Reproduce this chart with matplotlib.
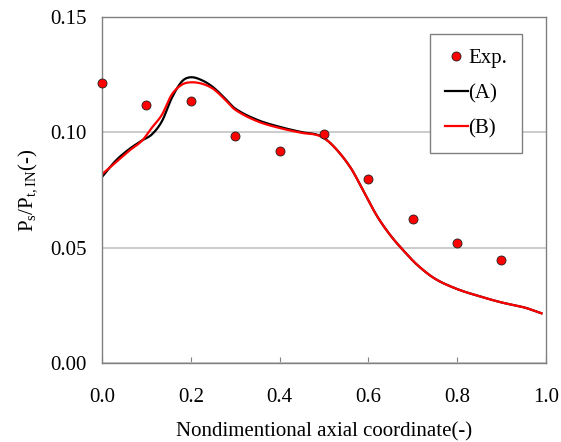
import numpy as np
import matplotlib
matplotlib.use("Agg")
import matplotlib.pyplot as plt

plt.rcParams['font.family'] = ['Liberation Serif', 'DejaVu Serif']
plt.rcParams['mathtext.fontset'] = 'custom'
plt.rcParams['mathtext.rm'] = 'Liberation Serif'
plt.rcParams['mathtext.it'] = 'Liberation Serif'
plt.rcParams['mathtext.default'] = 'regular'

# experimental points
exp_x = [0.0, 0.1, 0.2, 0.3, 0.4, 0.5, 0.6, 0.7, 0.8, 0.9]
exp_y = [0.1214, 0.1116, 0.1134, 0.0985, 0.0920, 0.0994, 0.0798, 0.0625, 0.0518, 0.0444]

# computed curves
calc_x = [0.0, 0.03, 0.06, 0.09, 0.112, 0.135, 0.157, 0.18, 0.2, 0.225, 0.25, 0.275,
          0.3, 0.35, 0.4, 0.45, 0.49, 0.52, 0.56, 0.59, 0.62, 0.65, 0.68, 0.71, 0.75,
          0.8, 0.85, 0.9, 0.95, 0.99]
a_y = [0.0806, 0.0875, 0.0925, 0.0964, 0.0990, 0.1048, 0.1148, 0.1220, 0.1238, 0.1225,
       0.1195, 0.1150, 0.1102, 0.1053, 0.1023, 0.1000, 0.0985, 0.0942, 0.0846, 0.0740,
       0.0635, 0.0552, 0.0485, 0.0425, 0.0365, 0.0320, 0.0289, 0.0262, 0.0241, 0.0215]
b_y = [0.0818, 0.0868, 0.0918, 0.0963, 0.1019, 0.1076, 0.1163, 0.1206, 0.1216, 0.1210,
       0.1188, 0.1145, 0.1097, 0.1047, 0.1018, 0.0997, 0.0984, 0.0942, 0.0846, 0.0740,
       0.0635, 0.0552, 0.0485, 0.0425, 0.0365, 0.0320, 0.0289, 0.0262, 0.0241, 0.0215]


def smooth(x, y):
    # cubic hermite through the read-off points (like excel's smoothed line)
    x = np.asarray(x, float)
    y = np.asarray(y, float)
    xs, ys = [], []
    for i in range(len(x) - 1):
        x0, x1 = x[i], x[i + 1]
        y0, y1 = y[i], y[i + 1]
        m0 = (y[i + 1] - y[i - 1]) / (x[i + 1] - x[i - 1]) if i > 0 else (y1 - y0) / (x1 - x0)
        m1 = (y[i + 2] - y[i]) / (x[i + 2] - x[i]) if i < len(x) - 2 else (y1 - y0) / (x1 - x0)
        t = np.linspace(0, 1, 20, endpoint=False)
        h = x1 - x0
        h00 = 2 * t**3 - 3 * t**2 + 1
        h10 = t**3 - 2 * t**2 + t
        h01 = -2 * t**3 + 3 * t**2
        h11 = t**3 - t**2
        xs.append(x0 + t * h)
        ys.append(h00 * y0 + h10 * h * m0 + h01 * y1 + h11 * h * m1)
    xs.append([x[-1]])
    ys.append([y[-1]])
    return np.concatenate(xs), np.concatenate(ys)


fig = plt.figure(figsize=(5.61, 4.42), dpi=100)
ax = fig.add_axes([0.182, 0.179, 0.791, 0.783])

ax.yaxis.grid(True, color='#c8c8c8', linewidth=1.3)
ax.set_axisbelow(True)

ax.plot(*smooth(calc_x, a_y), color='black', linewidth=1.6, label='(A)')
ax.plot(*smooth(calc_x, b_y), color='#ff0000', linewidth=1.6, label='(B)')
ax.plot(exp_x, exp_y, 'o', color='#ff0000', markeredgecolor='#202020',
        markeredgewidth=0.6, markersize=6.5, label='Exp.', zorder=5, clip_on=False)

ax.set_xlim(0, 1.0)
ax.set_ylim(0, 0.15)
ax.set_xticks([0.0, 0.2, 0.4, 0.6, 0.8, 1.0])
ax.set_yticks([0.00, 0.05, 0.10, 0.15])
ax.xaxis.set_major_formatter(matplotlib.ticker.FormatStrFormatter('%.1f'))
ax.yaxis.set_major_formatter(matplotlib.ticker.FormatStrFormatter('%.2f'))
ax.tick_params(axis='x', direction='in', length=4, color='#808080', pad=18, labelsize=15)
ax.tick_params(axis='y', length=0, pad=11, labelsize=15)
for s in ax.spines.values():
    s.set_color('#808080')
    s.set_linewidth(1.0)

ax.set_xlabel('Nondimentional axial coordinate(-)', fontsize=15, labelpad=11)
ax.set_ylabel('P$_s$/P$_{t,IN}$(-)', fontsize=15, labelpad=8)

h, l = ax.get_legend_handles_labels()
order = [2, 0, 1]
leg = ax.legend([h[i] for i in order], [l[i] for i in order], loc='upper right',
                bbox_to_anchor=(522 / 561, 1 - 34 / 442), bbox_transform=fig.transFigure,
                fontsize=15, numpoints=1, handlelength=1.1, handletextpad=0.05,
                labelspacing=0.75, borderpad=0.7, borderaxespad=0, fancybox=False,
                framealpha=1, edgecolor='#808080')
leg.get_frame().set_linewidth(1.0)

fig.savefig('out.png', dpi=100)
